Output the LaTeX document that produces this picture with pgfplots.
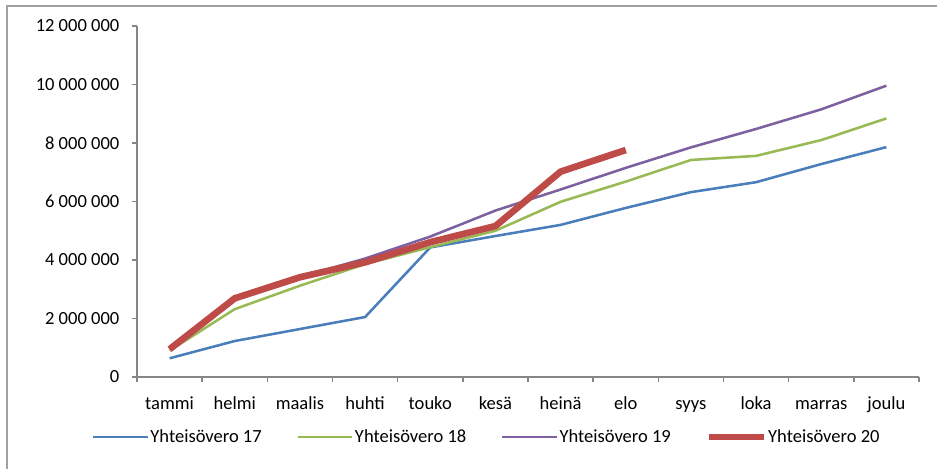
\documentclass[border=0pt]{standalone}
\usepackage{pgfplots}
\pgfplotsset{compat=1.18}
\usepackage{fontspec}
\setmainfont{Carlito}
\definecolor{c17}{HTML}{4A7EBB}
\definecolor{c18}{HTML}{98B954}
\definecolor{c19}{HTML}{7D60A0}
\definecolor{c20}{HTML}{BE4B48}
\definecolor{axgray}{HTML}{868686}
\definecolor{framegray}{HTML}{A0A0A0}
\begin{document}
\begin{tikzpicture}[x=0.75pt,y=0.75pt]
\useasboundingbox (0,0) rectangle (937,468);
\draw[framegray, line width=1.1pt] (7,-5) -- (7,462) -- (945,462);
\begin{axis}[
  at={(137*0.75pt,91*0.75pt)}, anchor=south west,
  scale only axis, width=586.5pt, height=263.25pt,
  xmin=-0.5, xmax=11.5, ymin=0, ymax=12000000,
  axis x line*=bottom, axis y line*=left,
  axis line style={axgray, line width=1.1pt},
  xtick={0,...,11},
  xticklabels={tammi,helmi,maalis,huhti,touko,kesä,heinä,elo,syys,loka,marras,joulu},
  major x tick style={draw=none},
  minor xtick={-0.5,0.5,...,11.5},
  minor tick length=3.75pt,
  minor x tick style={axgray, line width=1.1pt},
  ytick={0,2000000,4000000,6000000,8000000,10000000,12000000},
  yticklabels={0,2 000 000,4 000 000,6 000 000,8 000 000,10 000 000,12 000 000},
  scaled y ticks=false,
  major tick length=3.75pt,
  y tick style={axgray, line width=1.1pt},
  tick align=outside,
  tick label style={font=\fontsize{13.9}{16}\selectfont, text=black},
  xticklabel style={anchor=north, text height=10pt, text depth=3pt, yshift=-7pt},
  yticklabel style={xshift=-6pt},
  clip=false,
  legend columns=4,
  legend style={at={(axis description cs:-0.058,-0.171)}, anchor=west, draw=none,
    font=\fontsize{13.9}{16}\selectfont, inner sep=0pt,
    nodes={inner xsep=1pt, inner ysep=0pt},
    /tikz/every even column/.append style={column sep=25pt}},
  legend image code/.code={\draw[#1] (0pt,0pt) -- (41pt,0pt);},
]
\addplot[c17, line width=1.9pt] coordinates {(0,640000) (1,1230000) (2,1640000) (3,2050000) (4,4430000) (5,4820000) (6,5200000) (7,5780000) (8,6320000) (9,6660000) (10,7280000) (11,7860000)};
\addlegendentry{Yhteisövero 17}
\addplot[c18, line width=1.9pt] coordinates {(0,900000) (1,2320000) (2,3120000) (3,3860000) (4,4440000) (5,5000000) (6,5990000) (7,6680000) (8,7420000) (9,7560000) (10,8100000) (11,8840000)};
\addlegendentry{Yhteisövero 18}
\addplot[c19, line width=1.9pt] coordinates {(0,950000) (1,2650000) (2,3420000) (3,4050000) (4,4800000) (5,5690000) (6,6410000) (7,7150000) (8,7850000) (9,8480000) (10,9150000) (11,9960000)};
\addlegendentry{Yhteisövero 19}
\addplot[c20, line width=5pt] coordinates {(0,950000) (1,2690000) (2,3410000) (3,3920000) (4,4610000) (5,5160000) (6,7020000) (7,7760000)};
\addlegendentry{Yhteisövero 20}
\end{axis}
\end{tikzpicture}
\end{document}
